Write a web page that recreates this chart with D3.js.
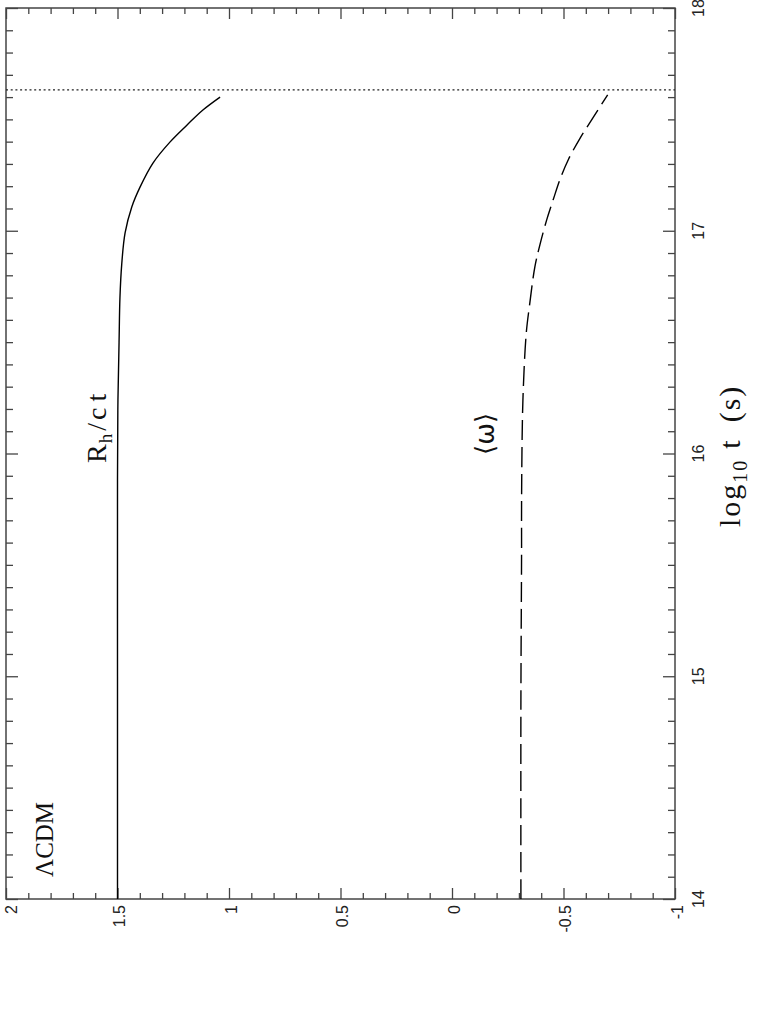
<!DOCTYPE html>
<html><head><meta charset="utf-8">
<script src="https://cdn.jsdelivr.net/npm/d3@7"></script>
<style>body{margin:0;background:#fff}svg{display:block}</style>
</head><body>
<script>
// Data (rotated plot: log10 t runs vertically, values horizontally)
const logT_Rh = [14, 15, 15.88, 16.24, 16.5, 16.7, 16.85, 16.99, 17.107, 17.196, 17.304, 17.398, 17.475, 17.542, 17.60];
const Rh      = [1.5, 1.5, 1.5, 1.498, 1.493, 1.489, 1.481, 1.466, 1.436, 1.399, 1.341, 1.265, 1.188, 1.117, 1.040];
const logT_w  = [14, 14.89, 15.57, 15.79, 16.24, 16.54, 16.66, 16.84, 16.94, 17.05, 17.14, 17.23, 17.32, 17.415, 17.51, 17.61];
const wAvg    = [-0.309, -0.309, -0.312, -0.312, -0.318, -0.333, -0.347, -0.372, -0.395, -0.425, -0.454, -0.484, -0.522, -0.574, -0.634, -0.698];
const tNow = 17.632;
const valueTicks = [2, 1.5, 1, 0.5, 0, -0.5, -1];
const valueTickLabels = ["2", "1.5", "1", "0.5", "0", "-0.5", "-1"];
const timeTicks = [14, 15, 16, 17, 18];
const timeTickLabels = ["14", "15", "16", "17", "18"];

const W = 760, H = 1018;
const L = 6, R = 675, T = 8, B = 899;
const svg = d3.select("body").append("svg").attr("width", W).attr("height", H);

const xV = d3.scaleLinear().domain([2, -1]).range([L, R]);
const yT = d3.scaleLinear().domain([14, 18]).range([B, T]);

const axisColor = "#444";
const minorV = d3.range(-10, 21).map(d => d / 10).filter(d => Math.abs(d * 2 - Math.round(d * 2)) > 1e-6);
const minorT = d3.range(140, 181).map(d => d / 10).filter(d => Math.abs(d - Math.round(d)) > 1e-6);

function drawAxis(axisFn, scale, pos, ticks, size) {
  const g = svg.append("g").attr("transform", pos)
    .call(axisFn(scale).tickValues(ticks).tickSizeInner(size).tickSizeOuter(0).tickFormat(""));
  g.select(".domain").remove();
  g.selectAll("line").attr("stroke", axisColor).attr("stroke-width", 1.3);
}
drawAxis(d3.axisBottom, xV, `translate(0,${B})`, valueTicks, -11);
drawAxis(d3.axisBottom, xV, `translate(0,${B})`, minorV, -6);
drawAxis(d3.axisTop, xV, `translate(0,${T})`, valueTicks, -11);
drawAxis(d3.axisTop, xV, `translate(0,${T})`, minorV, -6);
drawAxis(d3.axisLeft, yT, `translate(${L},0)`, timeTicks, -12);
drawAxis(d3.axisLeft, yT, `translate(${L},0)`, minorT, -7);
drawAxis(d3.axisRight, yT, `translate(${R},0)`, timeTicks, -12);
drawAxis(d3.axisRight, yT, `translate(${R},0)`, minorT, -7);

svg.append("rect").attr("x", L).attr("y", T).attr("width", R - L).attr("height", B - T)
  .attr("fill", "none").attr("stroke", axisColor).attr("stroke-width", 1.5);

// tick labels
const tickFont = "'Liberation Sans', Arial, sans-serif";
svg.append("g").selectAll("text").data(valueTicks).join("text")
  .attr("transform", d => `translate(${Math.max(xV(d) + 2, 11)},905) rotate(-90)`)
  .attr("text-anchor", "end").attr("dy", "0.35em")
  .attr("font-family", tickFont).attr("font-size", 16).attr("fill", "#222")
  .text((d, i) => valueTickLabels[i]);
svg.append("g").selectAll("text").data(timeTicks).join("text")
  .attr("transform", d => `translate(704,${yT(d)}) rotate(-90)`)
  .attr("text-anchor", "middle")
  .attr("font-family", tickFont).attr("font-size", 16).attr("fill", "#222")
  .text((d, i) => timeTickLabels[i]);

// lines
svg.append("line").attr("x1", L).attr("x2", R).attr("y1", yT(tNow)).attr("y2", yT(tNow))
  .attr("stroke", "#222").attr("stroke-width", 1.3).attr("stroke-dasharray", "2,2.7");

const line = d3.line().curve(d3.curveCatmullRom.alpha(0.5));
svg.append("path")
  .attr("d", line(logT_Rh.map((t, i) => [xV(Rh[i]), yT(t)])))
  .attr("fill", "none").attr("stroke", "#000").attr("stroke-width", 1.4);
svg.append("path")
  .attr("d", line(logT_w.map((t, i) => [xV(wAvg[i]), yT(t)])))
  .attr("fill", "none").attr("stroke", "#000").attr("stroke-width", 1.4)
  .attr("stroke-dasharray", "20,7");

// labels
const serif = "'Liberation Serif', 'DejaVu Serif', serif";
svg.append("text").attr("transform", "translate(53,877) rotate(-90)")
  .attr("font-family", serif).attr("font-size", 25).attr("fill", "#111").text("ΛCDM");

const rh = svg.append("text").attr("transform", "translate(106,463) rotate(-90)")
  .attr("font-family", serif).attr("font-size", 28).attr("fill", "#111")
  .attr("letter-spacing", 3);
rh.append("tspan").text("R");
rh.append("tspan").attr("font-size", 19).attr("dy", 6).attr("dx", -2).text("h");
rh.append("tspan").attr("dy", -6).text("/c");
rh.append("tspan").attr("dx", 3).text("t");

svg.append("text").attr("transform", "translate(494,455) rotate(-90)")
  .attr("font-family", "'DejaVu Sans', sans-serif").attr("font-size", 26).attr("fill", "#111")
  .text("⟨ω⟩");

const xl = svg.append("text").attr("transform", "translate(740,527) rotate(-90)")
  .attr("font-family", serif).attr("font-size", 30).attr("fill", "#111")
  .attr("letter-spacing", 2);
xl.append("tspan").text("log");
xl.append("tspan").attr("font-size", 20).attr("dy", 7).text("10");
xl.append("tspan").attr("dy", -7).attr("dx", 10).text("t");
xl.append("tspan").attr("dx", 16).text("(s)");
</script>
</body></html>
